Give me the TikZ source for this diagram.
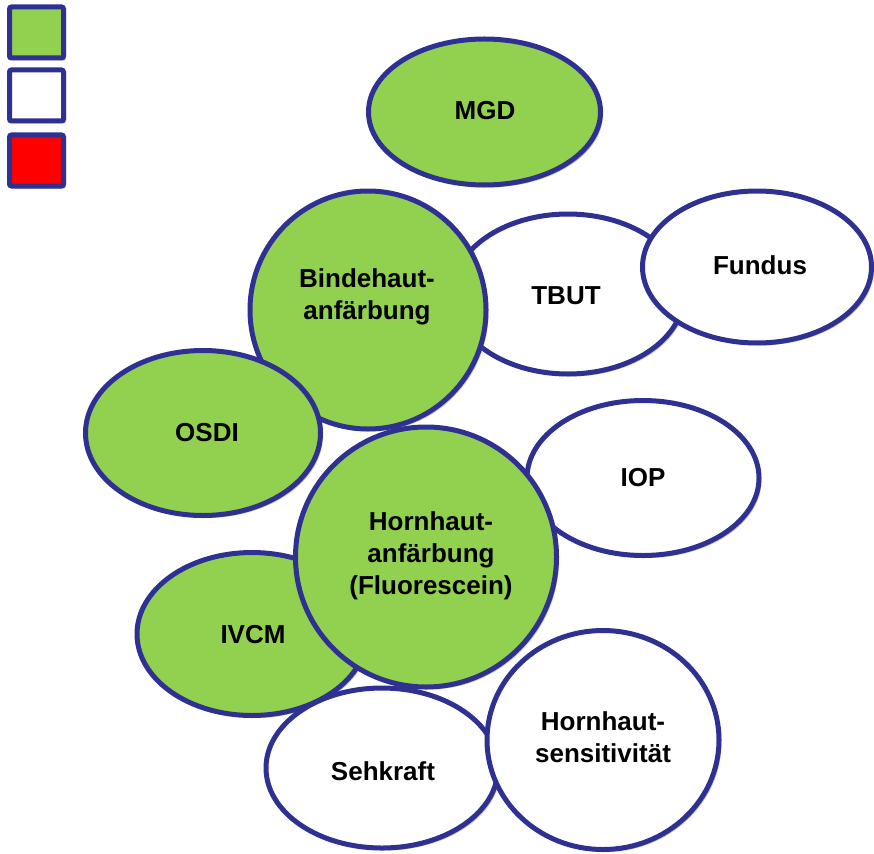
\documentclass[tikz,border=0pt]{standalone}
\usepackage{fontspec}
\setmainfont{Liberation Sans}
\usetikzlibrary{shapes.geometric,shadows}
\definecolor{rimblue}{HTML}{2E3192}
\definecolor{leafgreen}{HTML}{92D050}
\definecolor{alertred}{HTML}{FF0000}
\tikzset{
  softshadow/.style={drop shadow={shadow xshift=2.5pt,shadow yshift=-2.5pt,opacity=0.4,fill=black!55}},
  bubble/.style={ellipse,draw=rimblue,line width=5pt,inner sep=0pt,softshadow},
  greenbubble/.style={bubble,fill=leafgreen},
  whitebubble/.style={bubble,fill=white},
  caption/.style={align=center,inner sep=0pt,font=\fontsize{26}{32}\selectfont\bfseries},
  keybox/.style={rectangle,rounded corners=2pt,draw=rimblue,line width=5pt,inner sep=0pt,
    minimum width=54pt,minimum height=51pt,softshadow},
}
\begin{document}
\begin{tikzpicture}[x=1pt,y=-1pt]
\useasboundingbox (0,0) rectangle (874,853);
\fill[white] (0,0) rectangle (874,853);

% colour key
\node[keybox,fill=leafgreen] (keygreen) at (36.5,32.5) {};
\node[keybox,fill=white]     (keywhite) at (36.5,95.5) {};
\node[keybox,fill=alertred]  (keyred)   at (36.5,160.5) {};

% bubbles, back to front, each followed by its caption
\node[greenbubble,minimum width=232pt,minimum height=146pt] (mgd) at (484.5,112) {};
\node[caption] (mgd-t) at (485,111) {MGD};

\node[whitebubble,minimum width=232pt,minimum height=160pt] (tbut) at (568,294) {};
\node[caption] (tbut-t) at (566,296) {TBUT};

\node[whitebubble,minimum width=229pt,minimum height=152pt] (fundus) at (757,267) {};
\node[caption] (fundus-t) at (760,265) {Fundus};

\node[greenbubble,minimum width=236pt,minimum height=238pt] (binde) at (368,310) {};
\node[caption] (binde-t) at (367,297) {Bindehaut-\\anfärbung};

\node[greenbubble,minimum width=235pt,minimum height=165pt] (osdi) at (203,433) {};
\node[caption] (osdi-t) at (207,433) {OSDI};

\node[whitebubble,minimum width=232pt,minimum height=155pt] (iop) at (643,478) {};
\node[caption] (iop-t) at (643,478) {IOP};

\node[greenbubble,minimum width=230pt,minimum height=163pt] (ivcm) at (252,634) {};
\node[caption] (ivcm-t) at (253,635) {IVCM};

\node[greenbubble,minimum width=261pt,minimum height=260pt] (horn) at (426,557) {};
\node[caption] (horn-t) at (431,556) {Hornhaut-\\anfärbung\\(Fluorescein)};

\node[whitebubble,minimum width=232pt,minimum height=160pt] (seh) at (382,768) {};
\node[caption] (seh-t) at (383,771) {Sehkraft};

\node[whitebubble,minimum width=232pt,minimum height=219pt] (sens) at (603,740) {};
\node[caption] (sens-t) at (603,737) {Hornhaut-\\sensitivität};
\end{tikzpicture}
\end{document}
